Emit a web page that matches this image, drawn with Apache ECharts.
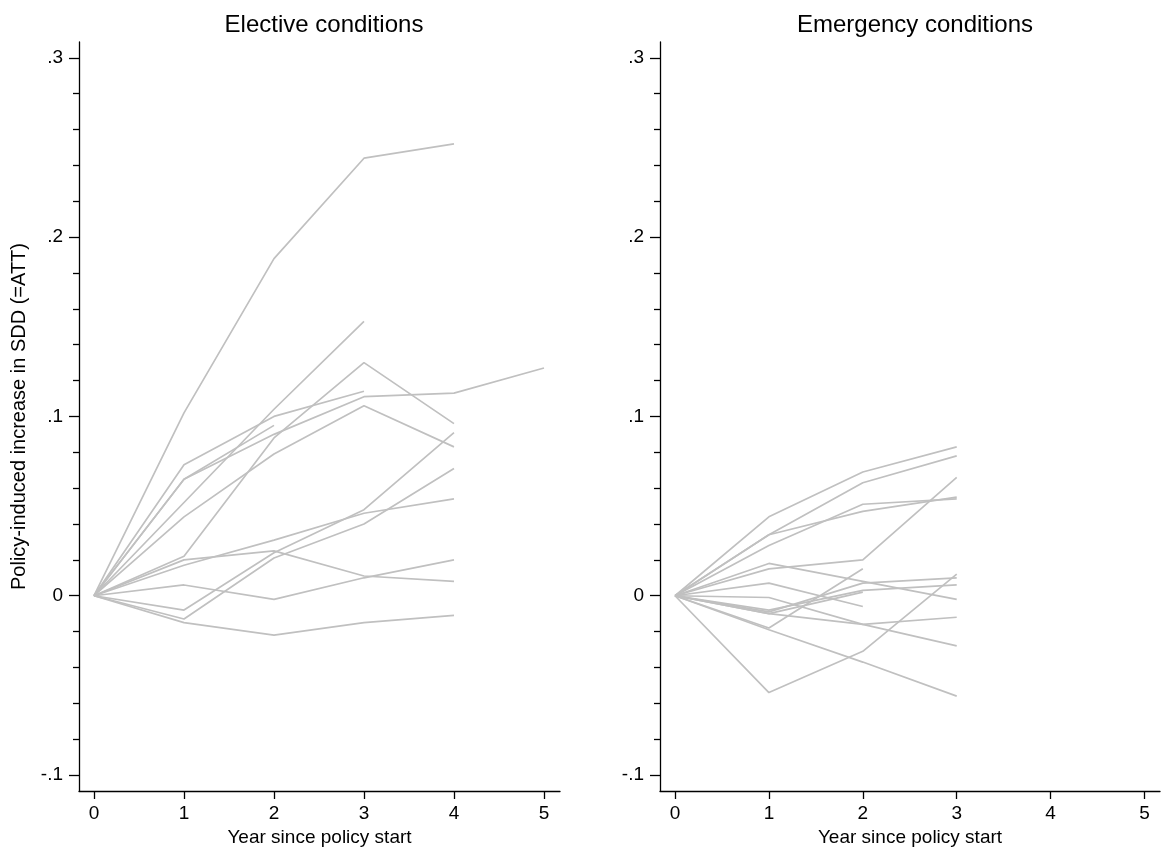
<!DOCTYPE html>
<html>
<head>
<meta charset="utf-8">
<script src="https://cdn.jsdelivr.net/npm/echarts@6/dist/echarts.min.js"></script>
<style>
  html, body { margin: 0; padding: 0; background: #fff; }
  #main { width: 1161px; height: 856px; }
</style>
</head>
<body>
<div id="main"></div>
<script>
// years since policy start
const years = [0, 1, 2, 3, 4, 5];

// elective conditions: one run per cohort (ATT by year)
const electiveRuns = [
    [0, 0.102, 0.188, 0.244, 0.252],
    [0, 0.065, 0.090, 0.111, 0.113, 0.127],
    [0, 0.022, 0.088, 0.130, 0.096],
    [0, -0.008, 0.024, 0.048, 0.091],
    [0, 0.044, 0.079, 0.106, 0.083],
    [0, -0.013, 0.021, 0.040, 0.071],
    [0, 0.017, 0.031, 0.046, 0.054],
    [0, 0.006, -0.002, 0.010, 0.020],
    [0, 0.020, 0.025, 0.011, 0.008],
    [0, -0.015, -0.022, -0.015, -0.011],
    [0, 0.052, 0.104, 0.153],
    [0, 0.073, 0.100, 0.114],
    [0, 0.065, 0.095]
];

// emergency conditions
const emergencyRuns = [
    [0, 0.044, 0.069, 0.083],
    [0, 0.034, 0.063, 0.078],
    [0, 0.034, 0.047, 0.055],
    [0, 0.028, 0.051, 0.054],
    [0, 0.015, 0.020, 0.066],
    [0, 0.018, 0.008, -0.002],
    [0, 0.007, -0.006],
    [0, -0.019, -0.037, -0.056],
    [0, -0.054, -0.031, 0.012],
    [0, -0.001, -0.016, -0.028],
    [0, -0.010, -0.016, -0.012],
    [0, -0.008, 0.003, 0.006],
    [0, -0.009, 0.007, 0.010],
    [0, -0.018, 0.015],
    [0, -0.010, 0.002]
];

const xTicks = [0, 1, 2, 3, 4, 5];
const yMajor = [-0.1, 0, 0.1, 0.2, 0.3];
const yMinor = [-0.08, -0.06, -0.04, -0.02, 0.02, 0.04, 0.06, 0.08,
    0.12, 0.14, 0.16, 0.18, 0.22, 0.24, 0.26, 0.28];

const FONT = '"Liberation Sans", Arial, sans-serif';
const Y_MIN = -0.1089, Y_MAX = 0.3088;

function fmtY(v) {
    if (Math.abs(v) < 1e-9) return '0';
    return (v < 0 ? '-' : '') + Math.abs(v).toFixed(1).replace(/^0/, '');
}

function xAxisFor(gi, min, max) {
    return {
        type: 'value', gridIndex: gi, min: min, max: max, position: 'bottom',
        name: 'Year since policy start', nameLocation: 'middle', nameGap: 32,
        nameTextStyle: {color: '#000', fontSize: 19, fontFamily: FONT},
        axisLine: {show: true, onZero: false, lineStyle: {color: '#000', width: 1.3}},
        axisTick: {show: true, customValues: xTicks, length: 8, lineStyle: {color: '#000', width: 1.3}},
        axisLabel: {customValues: xTicks, color: '#000', fontSize: 19, fontFamily: FONT, margin: 13},
        splitLine: {show: false}
    };
}

function yAxesFor(gi, withName) {
    return [{
        type: 'value', gridIndex: gi, min: Y_MIN, max: Y_MAX, position: 'left',
        name: withName ? 'Policy-induced increase in SDD (=ATT)' : '',
        nameLocation: 'middle', nameGap: 50,
        nameTextStyle: {color: '#000', fontSize: 20, fontFamily: FONT},
        axisLine: {show: true, onZero: false, lineStyle: {color: '#000', width: 1.3}},
        axisTick: {show: true, customValues: yMajor, length: 10, lineStyle: {color: '#000', width: 1.3}},
        axisLabel: {customValues: yMajor, formatter: fmtY, color: '#000', fontSize: 19, fontFamily: FONT, margin: 16},
        splitLine: {show: false}
    }, {
        type: 'value', gridIndex: gi, min: Y_MIN, max: Y_MAX, position: 'left', offset: 0,
        axisLine: {show: false, onZero: false},
        axisTick: {show: true, customValues: yMinor, length: 6, lineStyle: {color: '#000', width: 1.3}},
        axisLabel: {show: false},
        splitLine: {show: false}
    }];
}

function runsToSeries(runs, xi, yi) {
    return runs.map(run => ({
        type: 'line',
        xAxisIndex: xi,
        yAxisIndex: yi,
        data: run.map((v, i) => [years[i], v]),
        symbol: 'none',
        silent: true,
        lineStyle: {color: '#c0c0c0', width: 1.7}
    }));
}

const chart = echarts.init(document.getElementById('main'));
chart.setOption({
    animation: false,
    backgroundColor: '#fff',
    title: [
        {text: 'Elective conditions', left: 319, top: 8, textAlign: 'center',
            textStyle: {color: '#000', fontSize: 24, fontWeight: 'normal', fontFamily: FONT}},
        {text: 'Emergency conditions', left: 910, top: 8, textAlign: 'center',
            textStyle: {color: '#000', fontSize: 24, fontWeight: 'normal', fontFamily: FONT}}
    ],
    grid: [
        {left: 79, top: 42, width: 481, height: 749},
        {left: 660, top: 42, width: 500, height: 749}
    ],
    xAxis: [xAxisFor(0, -0.1667, 5.178), xAxisFor(1, -0.16, 5.165)],
    yAxis: yAxesFor(0, true).concat(yAxesFor(1, false)),
    series: runsToSeries(electiveRuns, 0, 0).concat(runsToSeries(emergencyRuns, 1, 2))
});
</script>
</body>
</html>
